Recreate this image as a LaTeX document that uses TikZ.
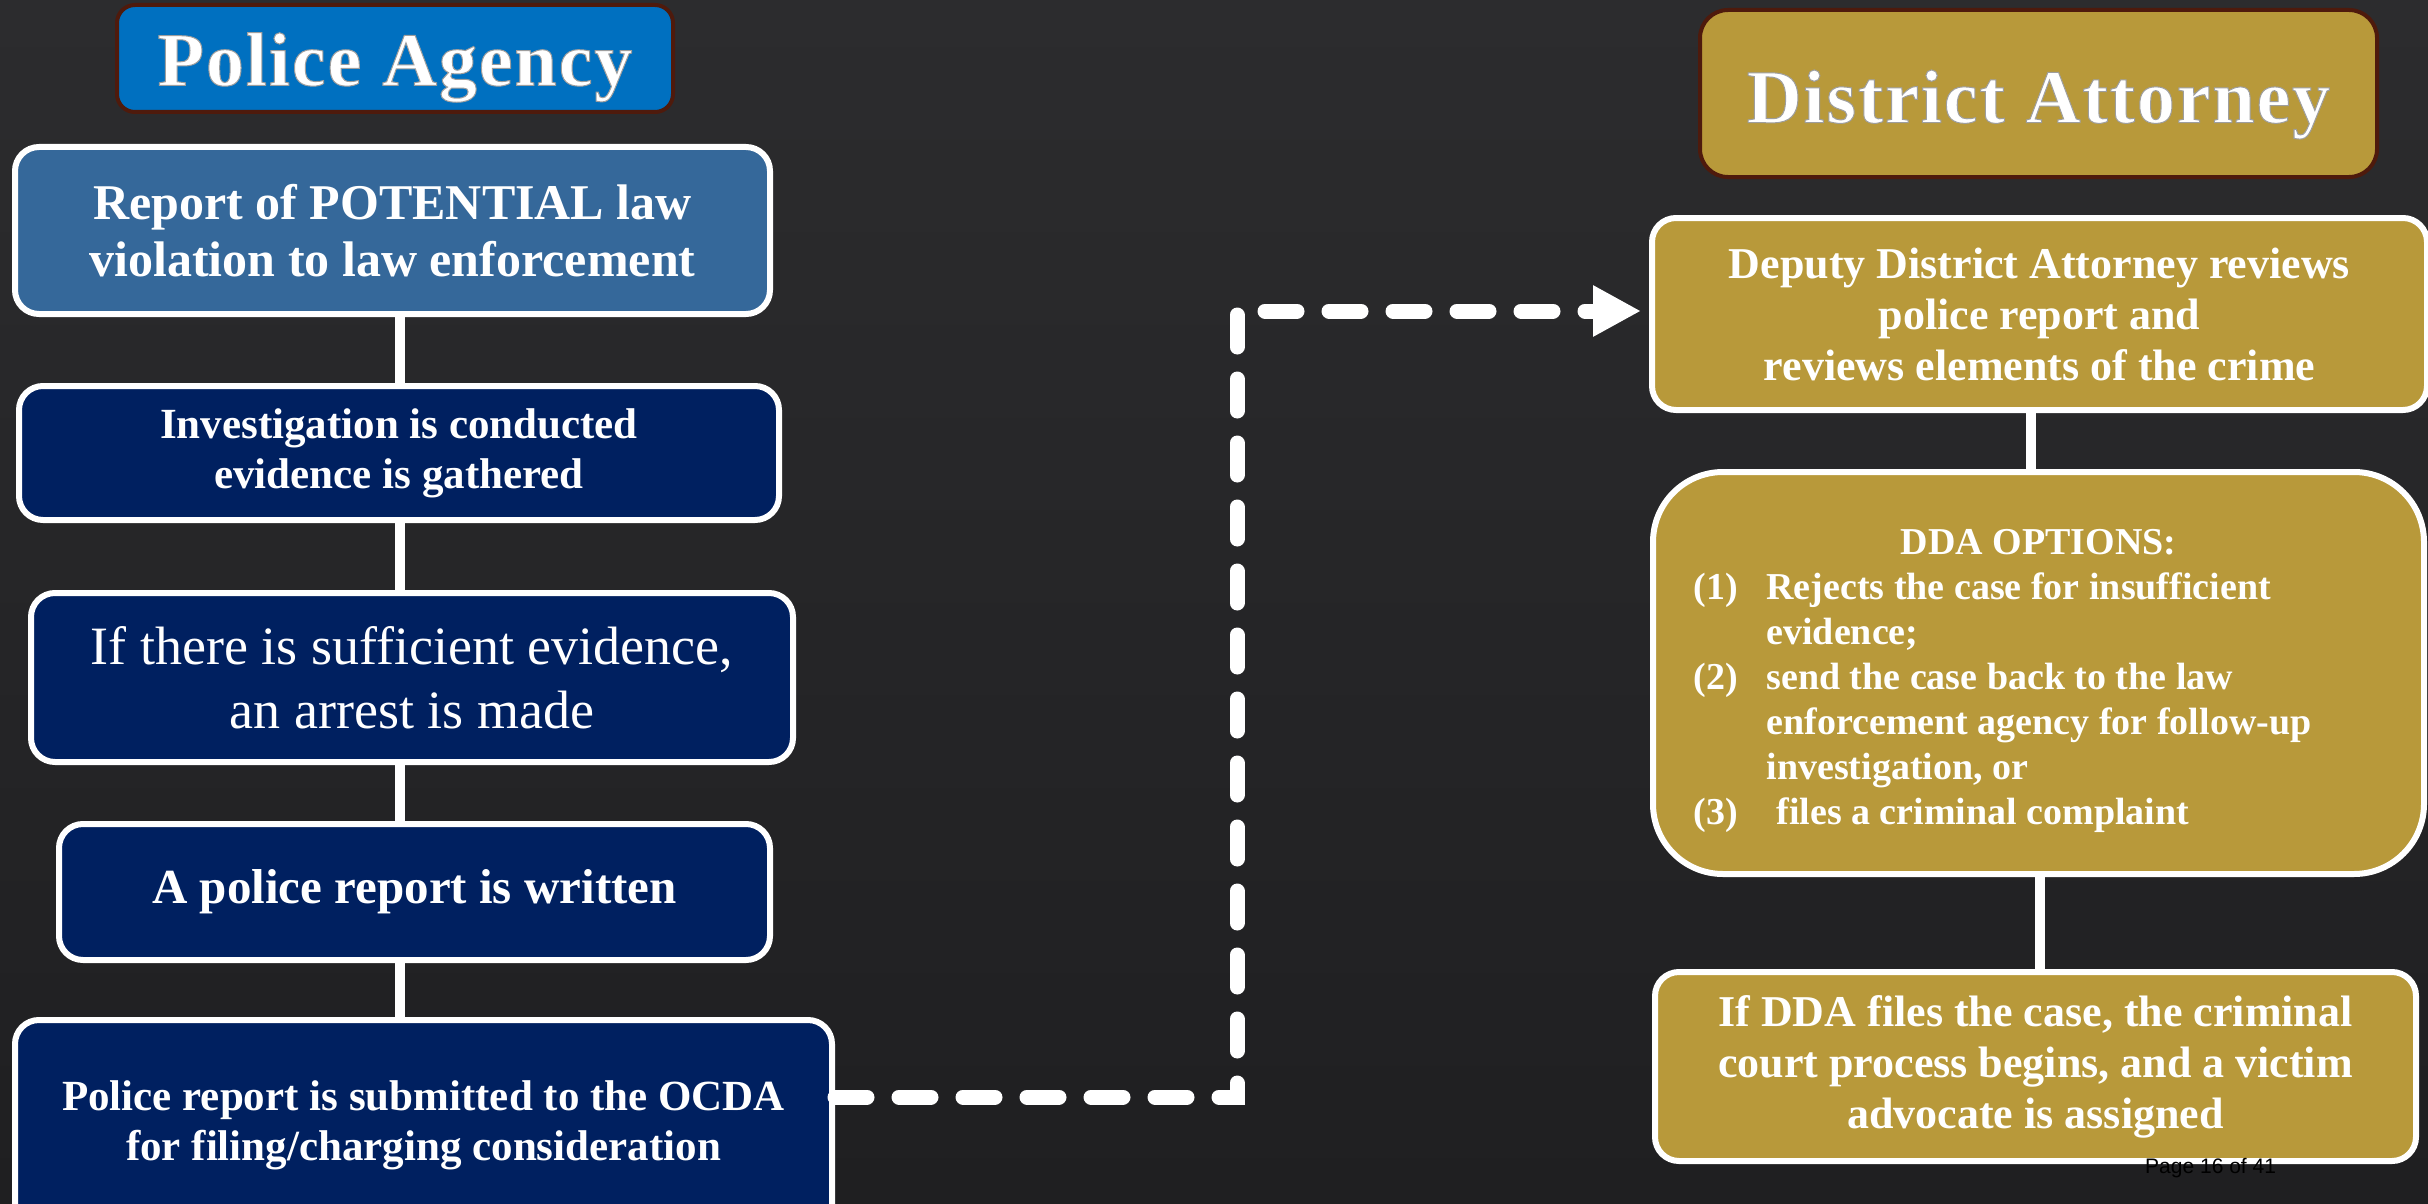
\documentclass[tikz,border=0pt]{standalone}
\usepackage{fontspec}
\setmainfont{Liberation Serif}
\newfontfamily\pagefont{Liberation Sans}
\usetikzlibrary{arrows.meta,calc}
\definecolor{bgtop}{HTML}{2C2C2E}
\definecolor{bgbot}{HTML}{1F1F21}
\definecolor{policeblue}{HTML}{0070C0}
\definecolor{steelbox}{HTML}{35689A}
\definecolor{navybox}{HTML}{002060}
\definecolor{goldbox}{HTML}{B8993A}
\definecolor{hdrborder}{HTML}{4E1A0C}
\newcommand\embossed[1]{\special{pdf:literal direct 2 Tr 1.0 w 0.62 0.62 0.62 RG}#1\special{pdf:literal direct 0 Tr}}
\begin{document}
\begin{tikzpicture}[x=1pt,y=-1pt,
  hdrbox/.style={draw=hdrborder, line width=4pt, rounded corners=18pt, inner sep=0pt, text=white, align=center},
  flowbox/.style={draw=white, line width=6pt, rounded corners=24pt, inner sep=0pt, text=white, align=center},
  link/.style={draw=white, line width=10pt},
  dasharrow/.style={draw=white, line width=15pt, line cap=round, dash pattern=on 32pt off 32pt, -{Triangle[length=48pt,width=48pt]}}
]
\useasboundingbox (0,0) rectangle (2428,1204);
\shade[top color=bgtop, bottom color=bgbot] (0,0) rectangle (2428,1204);

% left column
\node[hdrbox, fill=policeblue, minimum width=556pt, minimum height=107pt,
  font=\fontsize{76}{90}\selectfont\bfseries\addfontfeature{LetterSpace=2.5}] (hdrL) at (395,58.5) {\raisebox{-9pt}[\height][\depth]{\embossed{Police Agency}}};

\node[flowbox, fill=steelbox, minimum width=755pt, minimum height=167pt,
  font=\fontsize{50}{57}\selectfont\bfseries] (b1) at (392.5,230.5)
  {Report of POTENTIAL law\\violation to law enforcement};
\node[flowbox, fill=navybox, minimum width=760pt, minimum height=134pt,
  font=\fontsize{43}{50}\selectfont\bfseries] (b2) at (399,453)
  {Investigation is conducted\\evidence is gathered};
\node[flowbox, fill=navybox, minimum width=762pt, minimum height=169pt,
  font=\fontsize{54}{64}\selectfont] (b3) at (412,677.5)
  {If there is sufficient evidence,\\an arrest is made};
\node[flowbox, fill=navybox, minimum width=711pt, minimum height=136pt,
  font=\fontsize{49}{56}\selectfont\bfseries] (b4) at (414.5,892)
  {A police report is written};
\node[flowbox, fill=navybox, minimum width=817pt, minimum height=210pt,
  font=\fontsize{43}{50}\selectfont\bfseries] (b5) at (423.5,1125)
  {Police report is submitted to the OCDA\\for filing/charging consideration};

\coordinate (lx) at (400,0);
\draw[link] (b1.south -| lx) -- (b2.north -| lx);
\draw[link] (b2.south -| lx) -- (b3.north -| lx);
\draw[link] (b3.south -| lx) -- (b4.north -| lx);
\draw[link] (b4.south -| lx) -- (b5.north -| lx);

% right column
\node[hdrbox, fill=goldbox, rounded corners=28pt, minimum width=677pt, minimum height=167pt,
  font=\fontsize{76}{90}\selectfont\bfseries\addfontfeature{LetterSpace=2.5}] (hdrR) at (2038.5,93.5) {\raisebox{-11pt}[\height][\depth]{\embossed{District Attorney}}};

\node[flowbox, fill=goldbox, minimum width=775pt, minimum height=192pt,
  font=\fontsize{44}{51}\selectfont\bfseries] (r1) at (2039.5,314)
  {Deputy District Attorney reviews\\police report and\\reviews elements of the crime};
\node[flowbox, fill=goldbox, rounded corners=70pt, minimum width=771pt, minimum height=402pt,
  font=\fontsize{38}{45}\selectfont\bfseries] (r2) at (2038.5,673)
  {\raisebox{-7pt}[\height][\depth]{\begin{tabular}{@{}p{73pt}@{}p{617pt}@{}}
  \multicolumn{2}{c}{DDA OPTIONS:}\\
  (1) & Rejects the case for insufficient\\
      & evidence;\\
  (2) & send the case back to the law\\
      & enforcement agency for follow-up\\
      & investigation, or\\
  (3) & \hspace*{10pt}files a criminal complaint
  \end{tabular}}};
\node[flowbox, fill=goldbox, minimum width=761pt, minimum height=189pt,
  font=\fontsize{44}{51}\selectfont\bfseries] (r3) at (2035.5,1066.5)
  {If DDA files the case, the criminal\\court process begins, and a victim\\advocate is assigned};

\coordinate (rx1) at (2031,0);
\coordinate (rx2) at (2040,0);
\draw[link] (r1.south -| rx1) -- (r2.north -| rx1);
\draw[link] (r2.south -| rx2) -- (r3.north -| rx2);

\node[anchor=base west, inner sep=0pt, text=black, font=\pagefont\fontsize{21}{24}\selectfont] (pg) at (2145,1173) {Page 16 of 41};

% dashed connector
\coordinate (t1) at (1237,1097);
\coordinate (t2) at (1237,311);
\draw[dasharrow, shorten >=8pt] (b5.east |- t1) -- (t1) -- (t2) -- (r1.west |- t2);
\end{tikzpicture}
\end{document}
